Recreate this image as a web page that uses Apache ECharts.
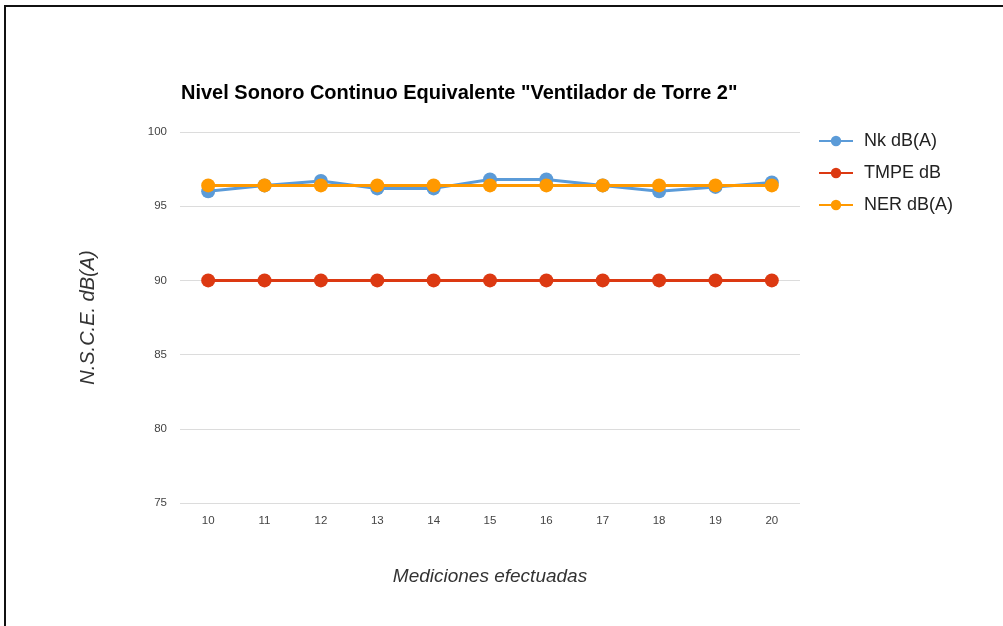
<!DOCTYPE html>
<html>
<head>
<meta charset="utf-8">
<script src="https://cdn.jsdelivr.net/npm/echarts@6/dist/echarts.min.js"></script>
<style>
  html, body { margin: 0; padding: 0; background: #fff; }
  #frame {
    position: absolute; left: 4px; top: 5px; width: 999px; height: 621px;
    border-top: 2px solid #111; border-left: 2px solid #111; box-sizing: border-box;
  }
  #chart { position: absolute; left: 0; top: 0; width: 1003px; height: 626px; }
</style>
</head>
<body>
<div id="frame"></div>
<div id="chart"></div>
<script>
// Measurement numbers along the x axis
const mediciones = ['10', '11', '12', '13', '14', '15', '16', '17', '18', '19', '20'];
// Measured level per measurement, dB(A)
const nk = [96.0, 96.4, 96.7, 96.2, 96.2, 96.8, 96.8, 96.4, 96.0, 96.3, 96.6];
// Maximum permissible exposure time level, dB
const tmpe = [90, 90, 90, 90, 90, 90, 90, 90, 90, 90, 90];
// Equivalent reference level, dB(A)
const ner = [96.4, 96.4, 96.4, 96.4, 96.4, 96.4, 96.4, 96.4, 96.4, 96.4, 96.4];

const seriesNames = ['Nk dB(A)', 'TMPE dB', 'NER dB(A)'];
const seriesColors = ['#5b9bd8', '#dc3912', '#ff9900'];
const seriesData = [nk, tmpe, ner];

const chart = echarts.init(document.getElementById('chart'), null, { renderer: 'canvas' });
const font = 'Liberation Sans, Arial, sans-serif';

chart.setOption({
  animation: false,
  backgroundColor: 'transparent',
  title: {
    text: 'Nivel Sonoro Continuo Equivalente "Ventilador de Torre 2"',
    left: 176, top: 78,
    textStyle: { fontFamily: font, fontSize: 20, fontWeight: 'bold', color: '#000' }
  },
  legend: {
    orient: 'vertical', left: 813, top: 127, itemGap: 14,
    itemWidth: 34, itemHeight: 13,
    textStyle: { fontFamily: font, fontSize: 18, color: '#222', padding: [0, 0, 0, 6] },
    data: seriesNames
  },
  grid: { left: 180, right: 203, top: 132, bottom: 123 },
  xAxis: {
    type: 'category', data: mediciones, boundaryGap: true,
    name: 'Mediciones efectuadas', nameLocation: 'middle', nameGap: 64,
    nameTextStyle: { fontFamily: font, fontSize: 19, fontStyle: 'italic', color: '#333' },
    axisLine: { show: false }, axisTick: { show: false },
    axisLabel: { fontFamily: font, fontSize: 11.5, color: '#444', margin: 12 }
  },
  yAxis: {
    type: 'value', min: 75, max: 100, interval: 5,
    name: 'N.S.C.E. dB(A)', nameLocation: 'middle', nameGap: 82, nameRotate: 90,
    nameTextStyle: { fontFamily: font, fontSize: 20, fontStyle: 'italic', color: '#333' },
    axisLine: { show: false }, axisTick: { show: false },
    axisLabel: { fontFamily: font, fontSize: 11.5, color: '#444', margin: 13 },
    splitLine: { lineStyle: { color: '#dcdcdc', width: 1 } }
  },
  series: seriesNames.map((name, i) => ({
    name, type: 'line', data: seriesData[i],
    symbol: 'circle', symbolSize: 14, showSymbol: true,
    itemStyle: { color: seriesColors[i] },
    lineStyle: { color: seriesColors[i], width: 3 },
    z: 2 + i
  }))
});
</script>
</body>
</html>
